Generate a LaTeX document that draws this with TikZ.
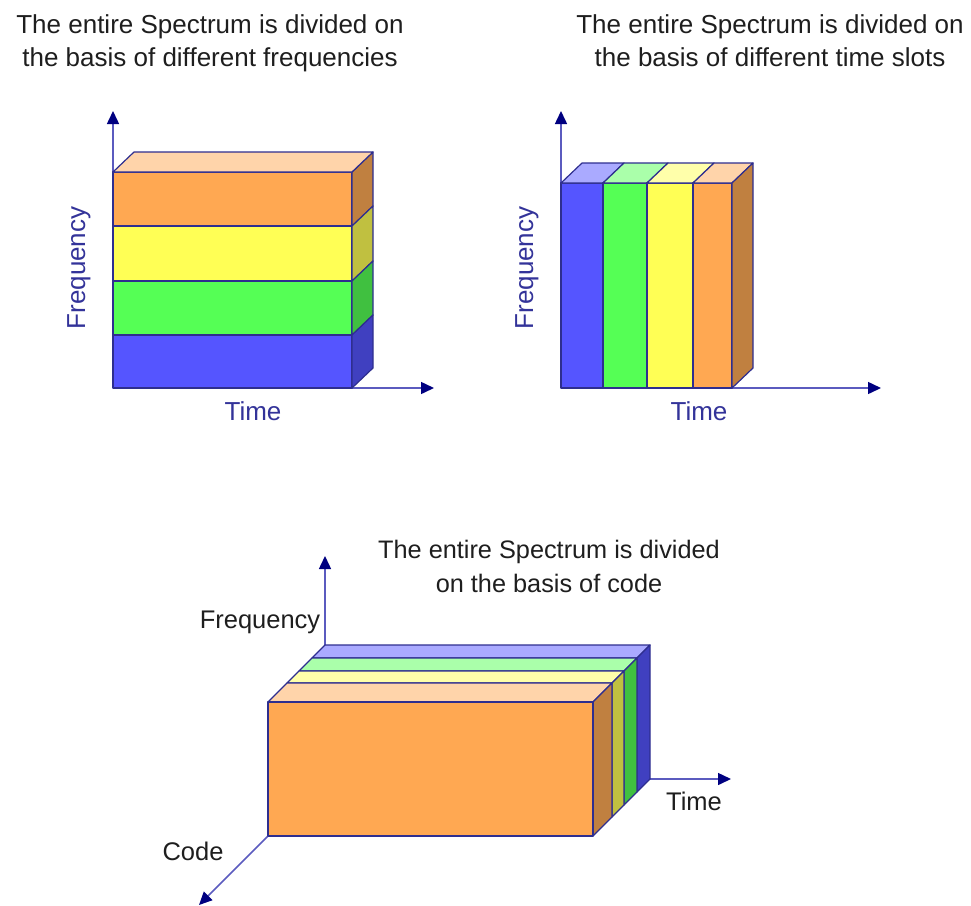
\documentclass[tikz,border=0pt]{standalone}
\usepackage{fontspec}
\setmainfont{Liberation Sans}
\usetikzlibrary{arrows.meta}
\definecolor{edgec}{HTML}{2E2E8F}
\definecolor{axisc}{HTML}{5B5BBF}
\definecolor{headc}{HTML}{000080}
\definecolor{lblue}{HTML}{333399}
\definecolor{txt}{HTML}{1E1E1E}
\definecolor{orF}{HTML}{FFA852}
\definecolor{orT}{HTML}{FFD4AA}
\definecolor{orS}{HTML}{C08040}
\definecolor{yeF}{HTML}{FFFF55}
\definecolor{yeT}{HTML}{FFFFAA}
\definecolor{yeS}{HTML}{C0C040}
\definecolor{grF}{HTML}{55FF55}
\definecolor{grT}{HTML}{AAFFAA}
\definecolor{grS}{HTML}{40C040}
\definecolor{blF}{HTML}{5555FF}
\definecolor{blT}{HTML}{AAAAFF}
\definecolor{blS}{HTML}{4040C0}
\begin{document}
\begin{tikzpicture}[x=1pt,y=-1pt,
  axis/.style={draw=axisc,line width=1.5pt,-{Triangle[length=13pt,width=12pt,color=headc]}},
  face/.style={draw=edgec,line width=1.2pt,line join=round},
  titletext/.style={font=\fontsize{26}{31}\selectfont,text=txt,inner sep=0pt,anchor=base},
  titletextb/.style={font=\fontsize{25.3}{30}\selectfont,text=txt,inner sep=0pt,anchor=base},
  bluelabel/.style={font=\fontsize{26}{31}\selectfont,text=lblue,inner sep=0pt,anchor=base},
  darklabel/.style={font=\fontsize{25.5}{30}\selectfont,text=txt,inner sep=0pt,anchor=base}]
\useasboundingbox (0,0) rectangle (971,905);

% ---------- titles ----------
\node[titletext] (t1a) at (210,33) {The entire Spectrum is divided on};
\node[titletext] (t1b) at (210,66) {the basis of different frequencies};
\node[titletext] (t2a) at (770,33) {The entire Spectrum is divided on};
\node[titletext] (t2b) at (770,66) {the basis of different time slots};
\node[titletextb] (t3a) at (549,558) {The entire Spectrum is divided};
\node[titletextb] (t3b) at (549,592) {on the basis of code};

% ---------- chart 1 (FDMA) ----------
\coordinate (O1) at (113,388);
\coordinate (F1) at (113,111);
\coordinate (T1) at (434,388);
\draw[axis] (O1) -- (F1);
\draw[axis] (O1) -- (T1);
\foreach \ya/\yb/\cf/\cs in {172/226/orF/orS,226/281/yeF/yeS,281/335/grF/grS,335/388/blF/blS}{
  \filldraw[face,fill=\cf] (113,\ya) rectangle (352,\yb);
  \filldraw[face,fill=\cs] (352,\ya) -- (373,{\ya-20}) -- (373,{\yb-20}) -- (352,\yb) -- cycle;
}
\filldraw[face,fill=orT] (113,172) -- (134,152) -- (373,152) -- (352,172) -- cycle;
\node[bluelabel] (time1) at (253,420) {Time};
\node[bluelabel,rotate=90] (freq1) at (85,268) {Frequency};

% ---------- chart 2 (TDMA) ----------
\coordinate (O2) at (561,388);
\coordinate (F2) at (561,111);
\coordinate (T2) at (881,388);
\draw[axis] (O2) -- (F2);
\draw[axis] (O2) -- (T2);
\foreach \xa/\xb/\cf/\ct in {561/603/blF/blT,603/647/grF/grT,647/693/yeF/yeT,693/732/orF/orT}{
  \filldraw[face,fill=\cf] (\xa,183) rectangle (\xb,388);
  \filldraw[face,fill=\ct] (\xa,183) -- ({\xa+21},163) -- ({\xb+21},163) -- (\xb,183) -- cycle;
}
\filldraw[face,fill=orS] (732,183) -- (753,163) -- (753,368) -- (732,388) -- cycle;
\node[bluelabel] (time2) at (699,420) {Time};
\node[bluelabel,rotate=90] (freq2) at (533,268) {Frequency};

% ---------- chart 3 (CDMA) ----------
\coordinate (O3) at (325,779);
\coordinate (F3) at (325,556);
\coordinate (T3) at (731,779);
\coordinate (C3) at (199,905);
\draw[axis] (O3) -- (F3);
\draw[axis] (O3) -- (T3);
\draw[axis] (O3) -- (C3);
\foreach \a/\b/\ct/\cs in {44/57/blT/blS,31/44/grT/grS,19/31/yeT/yeS,0/19/orT/orS}{
  \filldraw[face,fill=\ct] ({268+\a},{702-\a}) -- ({593+\a},{702-\a}) -- ({593+\b},{702-\b}) -- ({268+\b},{702-\b}) -- cycle;
  \filldraw[face,fill=\cs] ({593+\a},{702-\a}) -- ({593+\b},{702-\b}) -- ({593+\b},{836-\b}) -- ({593+\a},{836-\a}) -- cycle;
}
\filldraw[face,fill=orF] (268,702) rectangle (593,836);
\node[darklabel] (freq3) at (260,628) {Frequency};
\node[darklabel] (code3) at (193,860) {Code};
\node[darklabel] (time3) at (694,810) {Time};
\end{tikzpicture}
\end{document}
